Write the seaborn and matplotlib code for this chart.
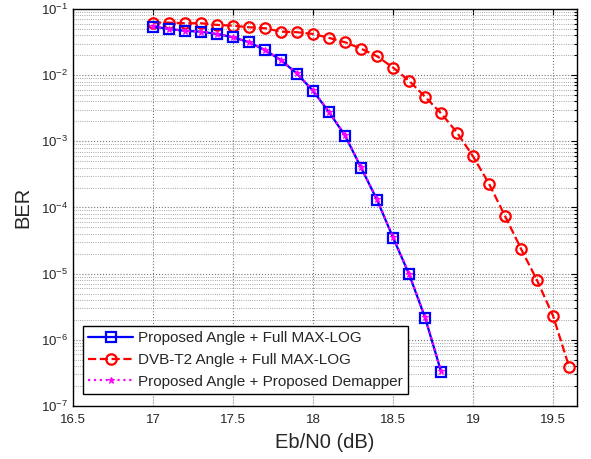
import numpy as np
import pandas as pd
import seaborn as sns
import matplotlib.pyplot as plt
from matplotlib.ticker import FixedLocator, NullFormatter

# BER curves
ebn0_prop = [17.0, 17.1, 17.2, 17.3, 17.4, 17.5, 17.6, 17.7, 17.8, 17.9,
             18.0, 18.1, 18.2, 18.3, 18.4, 18.5, 18.6, 18.7, 18.8]
ber_prop_full = [0.054, 0.050, 0.0466, 0.0454, 0.0418, 0.0373, 0.0314, 0.0238, 0.0168, 0.0105,
                 5.8e-3, 2.75e-3, 1.22e-3, 4.0e-4, 1.3e-4, 3.5e-5, 9.8e-6, 2.16e-6, 3.3e-7]
ber_prop_demap = [0.055, 0.050, 0.0468, 0.0455, 0.0420, 0.0375, 0.0316, 0.0240, 0.0170, 0.0106,
                  5.9e-3, 2.78e-3, 1.24e-3, 4.1e-4, 1.32e-4, 3.6e-5, 1.0e-5, 2.2e-6, 3.4e-7]

ebn0_dvb = [17.0, 17.1, 17.2, 17.3, 17.4, 17.5, 17.6, 17.7, 17.8, 17.9,
            18.0, 18.1, 18.2, 18.3, 18.4, 18.5, 18.6, 18.7, 18.8, 18.9,
            19.0, 19.1, 19.2, 19.3, 19.4, 19.5, 19.6]
ber_dvb = [0.0621, 0.0621, 0.0608, 0.0608, 0.0574, 0.0559, 0.0529, 0.0511, 0.0454, 0.0445,
           0.0419, 0.0365, 0.0314, 0.0251, 0.0193, 0.0130, 8.2e-3, 4.7e-3, 2.65e-3, 1.35e-3,
           5.9e-4, 2.27e-4, 7.4e-5, 2.36e-5, 7.9e-6, 2.29e-6, 3.9e-7]

xticks = [16.5, 17, 17.5, 18, 18.5, 19, 19.5]
xticklabels = ['16.5', '17', '17.5', '18', '18.5', '19', '19.5']
yexp = [-7, -6, -5, -4, -3, -2, -1]

labels = ['Proposed Angle + Full MAX-LOG',
          'DVB-T2 Angle + Full MAX-LOG',
          'Proposed Angle + Proposed Demapper']

sns.set_style('white')
plt.rcParams['font.family'] = ['Liberation Sans', 'DejaVu Sans']
plt.rcParams['mathtext.default'] = 'regular'

fig = plt.figure(figsize=(5.91, 4.59), dpi=100)
ax = fig.add_axes([0.1235, 0.1155, 0.853, 0.865])

sns.lineplot(x=ebn0_prop, y=ber_prop_full, ax=ax, color='blue', lw=1.6,
             marker='s', markersize=7, markerfacecolor='none', markeredgecolor='blue',
             markeredgewidth=1.6, label=labels[0], zorder=3)
sns.lineplot(x=ebn0_dvb, y=ber_dvb, ax=ax, color='red', lw=1.6, linestyle='--',
             marker='o', markersize=7.5, markerfacecolor='none', markeredgecolor='red',
             markeredgewidth=1.6, label=labels[1], zorder=2)
sns.lineplot(x=ebn0_prop, y=ber_prop_demap, ax=ax, color='magenta', lw=1.6, linestyle=':',
             marker='*', markersize=5, markeredgecolor='magenta', label=labels[2], zorder=4)

ax.set_yscale('log')
ax.set_xlim(16.5, 19.65)
ax.set_ylim(1e-7, 1e-1)
ax.set_xticks(xticks)
ax.set_xticklabels(xticklabels)
ax.set_yticks([10.0 ** e for e in yexp])
ax.set_yticklabels(['$10^{%d}$' % e for e in yexp])
minor = [m * 10.0 ** e for e in yexp[:-1] for m in range(2, 10)]
ax.yaxis.set_minor_locator(FixedLocator(minor))
ax.yaxis.set_minor_formatter(NullFormatter())

ax.grid(True, which='major', color='#777777', linestyle=':', linewidth=0.8)
ax.grid(True, which='minor', axis='y', color='#888888', linestyle=':', linewidth=0.6)
ax.tick_params(which='both', direction='in', top=True, right=True, labelsize=9.5,
               color='black', width=0.8)
ax.tick_params(which='major', length=4)
ax.tick_params(which='minor', length=2)
ax.tick_params(axis='x', pad=6)
for s in ax.spines.values():
    s.set_color('black')
    s.set_linewidth(1.0)

ax.set_xlabel('Eb/N0 (dB)', fontsize=14.5, labelpad=5)
ax.set_ylabel('BER', fontsize=14.5, labelpad=6)

leg = ax.legend(loc='lower left', bbox_to_anchor=(0.02, 0.03), fontsize=11,
                frameon=True, fancybox=False, edgecolor='black', framealpha=1,
                handlelength=2.9, borderpad=0.35, labelspacing=0.5, handletextpad=0.35,
                borderaxespad=0)
leg.get_frame().set_linewidth(1.0)

fig.savefig('out.png', dpi=100)
